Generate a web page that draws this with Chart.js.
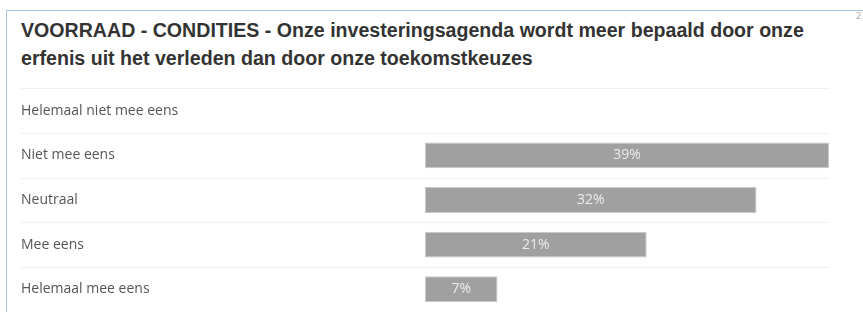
<!DOCTYPE html>
<html>
<head>
<meta charset="utf-8">
<script src="https://cdn.jsdelivr.net/npm/chart.js@4.4.0/dist/chart.umd.min.js"></script>
<style>
  html, body { margin: 0; padding: 0; width: 863px; height: 312px; overflow: hidden; background: #fff; }
  .box { position: absolute; left: 6px; top: 10px; right: -2px; height: 320px; border-left: 1px solid #a9c3e6; border-top: 1px solid #a9c3e6; }
  .title { position: absolute; left: 21px; top: 16px; width: 800px; font: bold 19.6px "Liberation Sans", Arial, sans-serif; line-height: 28px; color: #333; }
  .pg { position: absolute; left: 856px; top: 12px; font: 8px "DejaVu Sans", sans-serif; color: #aaa; }
  .wrap { position: absolute; left: 21px; top: 80px; width: 808px; height: 240px; }
</style>
</head>
<body>
<div class="box"></div>
<div class="pg">2</div>
<div class="title">VOORRAAD - CONDITIES - Onze investeringsagenda wordt meer bepaald door onze erfenis uit het verleden dan door onze toekomstkeuzes</div>
<div class="wrap"><canvas id="chart1"></canvas></div>
<script>
var categories = ['Helemaal niet mee eens', 'Niet mee eens', 'Neutraal', 'Mee eens', 'Helemaal mee eens'];
var percentages = [0, 39, 32, 21.4, 7];
var pctLabels = ['', '39%', '32%', '21%', '7%'];

// lines above every row, over the full width (labels included)
const rowLines = {
  id: 'rowLines',
  beforeDatasetsDraw(chart) {
    const c = chart.ctx, y = chart.scales.y;
    const half = (y.getPixelForValue(1) - y.getPixelForValue(0)) / 2;
    c.save();
    c.strokeStyle = '#f0f0f0';
    c.lineWidth = 1;
    categories.forEach(function(cat, i) {
      const py = Math.round(y.getPixelForValue(i) - half) + 0.5;
      c.beginPath();
      c.moveTo(0, py);
      c.lineTo(chart.chartArea.right, py);
      c.stroke();
    });
    c.restore();
  }
};

// percentage text in the middle of each bar
const barText = {
  id: 'barText',
  afterDatasetsDraw(chart) {
    const c = chart.ctx;
    c.save();
    c.font = '14px "Open Sans"';
    c.fillStyle = '#ececec';
    c.textAlign = 'center';
    c.textBaseline = 'middle';
    chart.getDatasetMeta(0).data.forEach(function(bar, i) {
      if (!pctLabels[i]) return;
      c.fillText(pctLabels[i], (bar.x + bar.base) / 2, bar.y);
    });
    c.restore();
  }
};

const ctx = document.getElementById('chart1');
const chart1 = new Chart(ctx, {
  type: 'bar',
  data: {
    labels: categories,
    datasets: [{
      data: percentages,
      backgroundColor: '#a0a0a0',
      borderColor: '#c9c9c9',
      borderWidth: 1,
      borderSkipped: false,
      categoryPercentage: 1,
      barPercentage: 0.58,
    }]
  },
  options: {
    indexAxis: 'y',
    responsive: true,
    maintainAspectRatio: false,
    animation: false,
    layout: { padding: 0 },
    plugins: { legend: { display: false }, tooltip: { enabled: false } },
    scales: {
      x: { display: false, min: 0, max: 39 },
      y: {
        grid: { display: false },
        border: { display: false },
        afterFit: function(axis) { axis.width = 404; },
        ticks: {
          crossAlign: 'far',
          padding: 0,
          color: '#555',
          font: { family: 'Open Sans', size: 14 }
        }
      }
    }
  },
  plugins: [rowLines, barText]
});
</script>
</body>
</html>
